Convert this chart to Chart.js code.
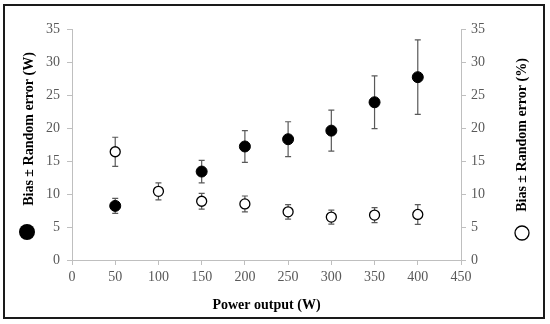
<!DOCTYPE html>
<html><head><meta charset="utf-8">
<script src="https://cdn.jsdelivr.net/npm/chart.js@4"></script>
<style>html,body{margin:0;padding:0;background:#fff}#wrap{width:550px;height:324px}</style>
</head><body><div id="wrap"><canvas id="c" width="550" height="324"></canvas></div>
<script>
const powerW = [50, 100, 150, 200, 250, 300, 350, 400];
const biasW = [8.2, null, 13.4, 17.2, 18.3, 19.6, 23.9, 27.7];
const errW = [1.15, null, 1.7, 2.4, 2.65, 3.1, 4.0, 5.65];
const biasPct = [16.4, 10.4, 8.9, 8.5, 7.3, 6.5, 6.8, 6.9];
const errPct = [2.2, 1.3, 1.2, 1.2, 1.1, 1.05, 1.15, 1.5];
const xTicks = [0, 50, 100, 150, 200, 250, 300, 350, 400, 450];
const yTicks = [0, 5, 10, 15, 20, 25, 30, 35];
const titleX = 'Power output (W)';
const titleYL = 'Bias \u00b1 Random error (W)';
const titleYR = 'Bias \u00b1 Random error (%)';

const ptsW = powerW.map((x,i)=>biasW[i]==null?null:{x, y: biasW[i], e: errW[i]}).filter(p=>p);
const ptsP = powerW.map((x,i)=>({x, y: biasPct[i], e: errPct[i]}));

const errorBars = {
  id: 'errorBars',
  beforeDatasetsDraw(chart) {
    const ctx = chart.ctx;
    const xs = chart.scales.x;
    ctx.save();
    ctx.strokeStyle = '#595959';
    ctx.lineWidth = 1.2;
    chart.data.datasets.forEach((ds) => {
      const ys = chart.scales[ds.yAxisID];
      ds.data.forEach(p => {
        const px = xs.getPixelForValue(p.x);
        const t = ys.getPixelForValue(p.y + p.e);
        const b = ys.getPixelForValue(p.y - p.e);
        ctx.beginPath();
        ctx.moveTo(px, t); ctx.lineTo(px, b);
        ctx.moveTo(px-3, t); ctx.lineTo(px+3, t);
        ctx.moveTo(px-3, b); ctx.lineTo(px+3, b);
        ctx.stroke();
      });
    });
    ctx.restore();
  }
};

const decor = {
  id: 'decor',
  afterDraw(chart) {
    const ctx = chart.ctx;
    ctx.save();
    ctx.strokeStyle = '#1a1a1a';
    ctx.lineWidth = 2;
    ctx.strokeRect(4, 5, 540, 313);
    ctx.fillStyle = '#000';
    ctx.font = 'bold 14px "Liberation Serif"';
    ctx.textAlign = 'center';
    ctx.textBaseline = 'middle';
    const ca = chart.chartArea;
    ctx.fillText(titleX, (ca.left + ca.right)/2, 305);
    ctx.save();
    ctx.translate(29, 129);
    ctx.rotate(-Math.PI/2);
    ctx.fillText(titleYL, 0, 0);
    ctx.restore();
    ctx.save();
    ctx.translate(522, 135);
    ctx.rotate(-Math.PI/2);
    ctx.fillText(titleYR, 0, 0);
    ctx.restore();
    ctx.beginPath();
    ctx.arc(27, 232, 8, 0, Math.PI*2);
    ctx.fill();
    ctx.beginPath();
    ctx.lineWidth = 1.3;
    ctx.strokeStyle = '#000';
    ctx.arc(522, 233, 7, 0, Math.PI*2);
    ctx.stroke();
    ctx.restore();
  }
};

const tickFont = {family: '"Liberation Serif"', size: 14};
const axisCol = '#bfbfbf';

new Chart(document.getElementById('c'), {
  type: 'scatter',
  data: {
    datasets: [
      {label: titleYL, data: ptsW, yAxisID: 'y', pointRadius: 5.5, pointHoverRadius: 5.5,
       backgroundColor: '#000', borderColor: '#000', borderWidth: 1},
      {label: titleYR, data: ptsP, yAxisID: 'y2', pointRadius: 5, pointHoverRadius: 5,
       backgroundColor: '#fff', borderColor: '#000', borderWidth: 1.3}
    ]
  },
  options: {
    responsive: false,
    animation: false,
    layout: {padding: {top: 29, left: 0, right: 0, bottom: 0}},
    plugins: {legend: {display: false}, tooltip: {enabled: false}},
    scales: {
      x: {
        type: 'linear', min: 0, max: 450,
        afterBuildTicks: s => { s.ticks = xTicks.map(v => ({value: v})); },
        afterFit: s => { s.height = 64; },
        grid: {display: true, drawOnChartArea: false, drawTicks: true, tickLength: 5, color: axisCol},
        border: {display: true, color: axisCol, width: 1},
        ticks: {font: tickFont, color: '#595959', padding: 4, maxRotation: 0, autoSkip: false}
      },
      y: {
        type: 'linear', position: 'left', min: 0, max: 35,
        afterBuildTicks: s => { s.ticks = yTicks.map(v => ({value: v})); },
        afterFit: s => { s.width = 72; },
        grid: {display: true, drawOnChartArea: false, drawTicks: true, tickLength: 5, color: axisCol},
        border: {display: true, color: axisCol, width: 1},
        ticks: {font: tickFont, color: '#595959', padding: 7}
      },
      y2: {
        type: 'linear', position: 'right', min: 0, max: 35,
        afterBuildTicks: s => { s.ticks = yTicks.map(v => ({value: v})); },
        afterFit: s => { s.width = 89; },
        grid: {display: true, drawOnChartArea: false, drawTicks: true, tickLength: 5, color: axisCol},
        border: {display: true, color: axisCol, width: 1},
        ticks: {font: tickFont, color: '#595959', padding: 5}
      }
    }
  },
  plugins: [errorBars, decor]
});
</script>
</body></html>
